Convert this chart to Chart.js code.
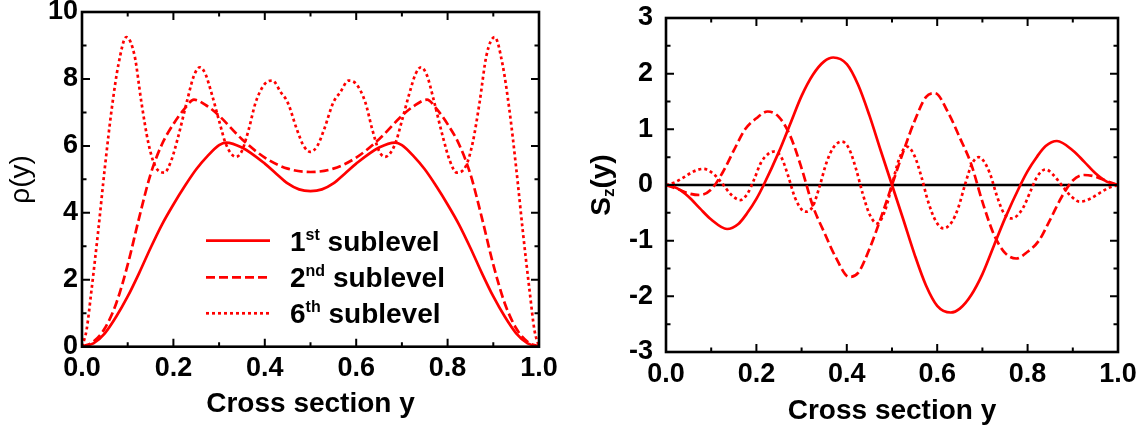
<!DOCTYPE html>
<html>
<head>
<meta charset="utf-8">
<script src="https://cdn.jsdelivr.net/npm/chart.js@4.4.1/dist/chart.umd.min.js"></script>
<style>
  html, body { margin: 0; padding: 0; background: #fff; }
  #wrap { position: relative; width: 1147px; height: 432px; }
  #rhoChart { position: absolute; left: 0; top: 0; }
  #szChart { position: absolute; left: 580px; top: 0; }
</style>
</head>
<body>
<div id="wrap">
  <canvas id="rhoChart" width="580" height="432"></canvas>
  <canvas id="szChart" width="567" height="432"></canvas>
</div>
<script>
// ---- data ----
const xMajorTicks = [0, 0.2, 0.4, 0.6, 0.8, 1.0];
const xTickLabels = ['0.0', '0.2', '0.4', '0.6', '0.8', '1.0'];
const xMinorTicks = [0.1, 0.3, 0.5, 0.7, 0.9];

const rhoMajorTicks = [0, 2, 4, 6, 8, 10];
const rhoTickLabels = ['0', '2', '4', '6', '8', '10'];
const rhoMinorTicks = [1, 3, 5, 7, 9];

const szMajorTicks = [-3, -2, -1, 0, 1, 2, 3];
const szTickLabels = ['-3', '-2', '-1', '0', '1', '2', '3'];
const szMinorTicks = [-2.5, -1.5, -0.5, 0.5, 1.5, 2.5];

// left panel: density rho(y)
const rho1X = [0, 0.025, 0.05, 0.075, 0.1, 0.125, 0.15, 0.175, 0.2, 0.225, 0.25, 0.275, 0.3, 0.315, 0.35, 0.4, 0.425, 0.45, 0.475, 0.5,
               0.525, 0.55, 0.575, 0.6, 0.65, 0.685, 0.7, 0.725, 0.75, 0.775, 0.8, 0.825, 0.85, 0.875, 0.9, 0.925, 0.95, 0.975, 1];
const rho1 = [0, 0.1, 0.4, 0.9, 1.5, 2.2, 2.95, 3.65, 4.25, 4.8, 5.3, 5.7, 6.02, 6.1, 5.95, 5.47, 5.17, 4.88, 4.7, 4.65,
              4.7, 4.88, 5.17, 5.47, 5.95, 6.1, 6.02, 5.7, 5.3, 4.8, 4.25, 3.65, 2.95, 2.2, 1.5, 0.9, 0.4, 0.1, 0];

const rho2X = [0, 0.025, 0.05, 0.075, 0.1, 0.125, 0.15, 0.175, 0.2, 0.225, 0.245, 0.275, 0.3, 0.35, 0.4, 0.45, 0.5,
               0.55, 0.6, 0.65, 0.7, 0.725, 0.755, 0.775, 0.8, 0.825, 0.85, 0.875, 0.9, 0.925, 0.95, 0.975, 1];
const rho2 = [0, 0.15, 0.55, 1.3, 2.45, 3.85, 5.15, 6.05, 6.65, 7.12, 7.38, 7.18, 6.9, 6.2, 5.65, 5.32, 5.22,
              5.32, 5.65, 6.2, 6.9, 7.18, 7.38, 7.12, 6.65, 6.05, 5.15, 3.85, 2.45, 1.3, 0.55, 0.15, 0];

const rho6X = [0, 0.01, 0.02, 0.035, 0.05, 0.065, 0.08, 0.097, 0.115, 0.13, 0.145, 0.16, 0.18, 0.195, 0.21, 0.23, 0.245, 0.258,
               0.27, 0.285, 0.3, 0.315, 0.337, 0.35, 0.365, 0.38, 0.4, 0.417, 0.435, 0.45, 0.47, 0.485, 0.5,
               0.515, 0.53, 0.55, 0.565, 0.583, 0.6, 0.62, 0.635, 0.65, 0.663, 0.685, 0.7, 0.715, 0.73, 0.742, 0.755,
               0.77, 0.79, 0.805, 0.82, 0.84, 0.855, 0.87, 0.885, 0.903, 0.92, 0.935, 0.95, 0.965, 0.98, 0.99, 1];
const rho6 = [0, 0.5, 1.6, 3.4, 5.35, 7.1, 8.45, 9.25, 8.7, 7.3, 6.1, 5.4, 5.2, 5.55, 6.25, 7.35, 8.1, 8.35,
              8.15, 7.5, 6.75, 6.05, 5.67, 5.85, 6.5, 7.3, 7.85, 7.95, 7.6, 7.3, 6.5, 6.0, 5.82,
              6.0, 6.5, 7.3, 7.6, 7.95, 7.85, 7.3, 6.5, 5.85, 5.67, 6.05, 6.75, 7.5, 8.15, 8.35, 8.1,
              7.35, 6.25, 5.55, 5.2, 5.4, 6.1, 7.3, 8.7, 9.25, 8.45, 7.1, 5.35, 3.4, 1.6, 0.5, 0];

// right panel: S_z(y)
const sz1X = [0, 0.025, 0.05, 0.075, 0.1, 0.135, 0.16, 0.18, 0.2, 0.216, 0.25, 0.275, 0.3, 0.325, 0.35, 0.37, 0.4, 0.425, 0.45, 0.475, 0.5,
              0.525, 0.55, 0.575, 0.6, 0.63, 0.65, 0.675, 0.7, 0.725, 0.75, 0.784, 0.8, 0.82, 0.84, 0.865, 0.9, 0.925, 0.95, 0.975, 1];
const sz1 = [0, -0.06, -0.21, -0.42, -0.62, -0.79, -0.7, -0.5, -0.25, 0, 0.6, 1.1, 1.6, 1.98, 2.22, 2.29, 2.17, 1.8, 1.25, 0.62, 0,
             -0.62, -1.25, -1.8, -2.17, -2.29, -2.22, -1.98, -1.6, -1.1, -0.6, 0, 0.25, 0.5, 0.7, 0.79, 0.62, 0.42, 0.21, 0.06, 0];

const sz2X = [0, 0.025, 0.05, 0.075, 0.1, 0.125, 0.15, 0.175, 0.2, 0.225, 0.25, 0.275, 0.3, 0.325, 0.35, 0.375, 0.405, 0.425, 0.45, 0.475, 0.5,
              0.525, 0.55, 0.575, 0.595, 0.625, 0.65, 0.675, 0.7, 0.725, 0.75, 0.775, 0.8, 0.825, 0.85, 0.875, 0.9, 0.925, 0.95, 0.975, 1];
const sz2 = [0, -0.07, -0.15, -0.18, -0.08, 0.22, 0.62, 1.0, 1.2, 1.32, 1.22, 0.88, 0.3, -0.38, -0.85, -1.29, -1.65, -1.58, -1.15, -0.6, 0,
             0.6, 1.15, 1.58, 1.65, 1.29, 0.85, 0.38, -0.3, -0.88, -1.22, -1.32, -1.2, -1.0, -0.62, -0.22, 0.08, 0.18, 0.15, 0.07, 0];

const sz6X = [0, 0.02, 0.04, 0.06, 0.083, 0.105, 0.125, 0.145, 0.164, 0.18, 0.195, 0.21, 0.225, 0.238, 0.255, 0.27, 0.285, 0.3, 0.31,
              0.325, 0.34, 0.355, 0.37, 0.389, 0.405, 0.42, 0.435, 0.45, 0.467, 0.485, 0.5,
              0.515, 0.533, 0.55, 0.565, 0.58, 0.597, 0.614, 0.632, 0.647, 0.662, 0.677, 0.692, 0.702, 0.717, 0.731, 0.747, 0.764,
              0.777, 0.792, 0.807, 0.822, 0.84, 0.857, 0.877, 0.896, 0.915, 0.94, 0.96, 0.98, 1];
const sz6 = [0, 0.05, 0.14, 0.24, 0.29, 0.2, 0.02, -0.18, -0.27, -0.16, 0.1, 0.4, 0.55, 0.6, 0.5, 0.17, -0.22, -0.44, -0.48,
             -0.38, -0.02, 0.4, 0.67, 0.78, 0.65, 0.3, -0.15, -0.52, -0.69, -0.45, 0,
             0.45, 0.69, 0.52, 0.15, -0.3, -0.65, -0.78, -0.67, -0.4, 0.02, 0.38, 0.5, 0.44, 0.2, -0.17, -0.5, -0.6,
             -0.55, -0.38, -0.1, 0.16, 0.28, 0.18, -0.02, -0.2, -0.3, -0.24, -0.14, -0.05, 0];

const zeroLineX = [0, 1];
const zeroLineY = [0, 0];

const legendNums = ['1', '2', '6'];
const legendSups = ['st', 'nd', 'th'];
const legendWord = 'sublevel';

// ---- helpers ----
const FONT = "'Liberation Sans', Arial, sans-serif";
const RED = '#ff0000';

function series(xs, ys) {
  return xs.map((x, i) => ({ x: x, y: ys[i] }));
}

function curve(label, xs, ys, dash) {
  return {
    label: label,
    data: series(xs, ys),
    borderColor: RED,
    borderWidth: 2.7,
    borderDash: dash,
    borderCapStyle: 'butt',
    pointRadius: 0,
    fill: false,
    cubicInterpolationMode: 'monotone'
  };
}

// box round the plot, ticks pointing inwards on all four sides
const frameTicks = {
  id: 'frameTicks',
  afterDatasetsDraw(chart, args, opts) {
    const { ctx, chartArea: a, scales: { x, y } } = chart;
    ctx.save();
    ctx.strokeStyle = '#000';
    ctx.lineWidth = 2;
    ctx.beginPath();
    const xt = (vals, len) => vals.forEach(v => {
      const px = x.getPixelForValue(v);
      ctx.moveTo(px, a.bottom); ctx.lineTo(px, a.bottom - len);
      ctx.moveTo(px, a.top); ctx.lineTo(px, a.top + len);
    });
    const yt = (vals, len) => vals.forEach(v => {
      const py = y.getPixelForValue(v);
      ctx.moveTo(a.left, py); ctx.lineTo(a.left + len, py);
      ctx.moveTo(a.right, py); ctx.lineTo(a.right - len, py);
    });
    xt(xMajorTicks, 8); xt(xMinorTicks, 4.5);
    yt(opts.major, 8); yt(opts.minor, 4.5);
    ctx.stroke();
    ctx.lineWidth = 2.6;
    ctx.strokeRect(a.left, a.top, a.right - a.left, a.bottom - a.top);
    ctx.restore();
  }
};

// legend with superscripts, inside the left plot
const sublevelLegend = {
  id: 'sublevelLegend',
  afterDatasetsDraw(chart) {
    const ctx = chart.ctx;
    const rows = [240.7, 277.3, 313.3];
    ctx.save();
    chart.data.datasets.forEach((ds, i) => {
      const yy = rows[i];
      ctx.strokeStyle = ds.borderColor;
      ctx.lineWidth = ds.borderWidth;
      ctx.lineCap = 'butt';
      ctx.setLineDash(ds.borderDash || []);
      ctx.beginPath();
      ctx.moveTo(206, yy); ctx.lineTo(270, yy);
      ctx.stroke();
      ctx.setLineDash([]);
      ctx.fillStyle = '#000';
      ctx.textBaseline = 'alphabetic';
      ctx.textAlign = 'left';
      let tx = 290;
      const base = yy + 10;
      ctx.font = 'bold 28px ' + FONT;
      ctx.fillText(legendNums[i], tx, base);
      tx += ctx.measureText(legendNums[i]).width;
      ctx.font = 'bold 16px ' + FONT;
      ctx.fillText(legendSups[i], tx, base - 11);
      tx += ctx.measureText(legendSups[i]).width;
      ctx.font = 'bold 28px ' + FONT;
      tx += ctx.measureText(' ').width;
      ctx.fillText(legendWord, tx, base);
    });
    ctx.restore();
  }
};

// S_z(y) axis title with a subscript
const szTitle = {
  id: 'szTitle',
  afterDraw(chart) {
    const ctx = chart.ctx;
    const cy = (chart.chartArea.top + chart.chartArea.bottom) / 2;
    ctx.save();
    ctx.translate(22, cy);
    ctx.rotate(-Math.PI / 2);
    ctx.fillStyle = '#000';
    ctx.textBaseline = 'middle';
    ctx.textAlign = 'left';
    const big = 'bold 28px ' + FONT, small = 'bold 17px ' + FONT;
    ctx.font = big;
    const wS = ctx.measureText('S').width, wP = ctx.measureText('(y)').width;
    ctx.font = small;
    const wz = ctx.measureText('z').width;
    let tx = -(wS + wz + wP) / 2;
    ctx.font = big; ctx.fillText('S', tx, 0); tx += wS;
    ctx.font = small; ctx.fillText('z', tx, 7); tx += wz;
    ctx.font = big; ctx.fillText('(y)', tx, 0);
    ctx.restore();
  }
};

function xAxis(height, titlePadBottom) {
  return {
    type: 'linear', min: 0, max: 1,
    grid: { display: false, drawTicks: false },
    border: { display: false },
    afterBuildTicks: s => { s.ticks = xMajorTicks.map(v => ({ value: v })); },
    afterFit: s => { s.height = height; s.paddingLeft = 0; s.paddingRight = 0; },
    ticks: {
      padding: 6, color: '#000', maxRotation: 0, autoSkip: false,
      font: { family: FONT, size: 27, weight: 'bold' },
      callback: (v, i) => xTickLabels[i]
    },
    title: {
      display: true, text: 'Cross section y', color: '#000',
      font: { family: FONT, size: 28, weight: 'bold' },
      padding: { top: 0, bottom: titlePadBottom }
    }
  };
}

function yAxis(min, max, major, labels, width, pad, title) {
  return {
    type: 'linear', min: min, max: max,
    grid: { display: false, drawTicks: false },
    border: { display: false },
    afterBuildTicks: s => { s.ticks = major.map(v => ({ value: v })); },
    afterFit: s => { s.width = width; s.paddingTop = 0; s.paddingBottom = 0; },
    ticks: {
      padding: pad, color: '#000', autoSkip: false,
      font: { family: FONT, size: 27, weight: 'bold' },
      callback: (v, i) => labels[i]
    },
    title: title
  };
}

new Chart(document.getElementById('rhoChart'), {
  type: 'line',
  data: {
    datasets: [
      curve('1st sublevel', rho1X, rho1, []),
      curve('2nd sublevel', rho2X, rho2, [9, 4]),
      curve('6th sublevel', rho6X, rho6, [3, 3])
    ]
  },
  options: {
    responsive: false,
    animation: false,
    layout: { padding: { top: 12, right: 41, left: 0, bottom: 0 } },
    plugins: {
      legend: { display: false },
      tooltip: { enabled: false },
      frameTicks: { major: rhoMajorTicks, minor: rhoMinorTicks }
    },
    scales: {
      x: xAxis(85.3, 11),
      y: yAxis(0, 10, rhoMajorTicks, rhoTickLabels, 82, 4, {
        display: true, text: 'ρ(y)', color: '#000',
        font: { family: FONT, size: 28, weight: 'normal' },
        padding: { top: 4, bottom: 0 }
      })
    }
  },
  plugins: [frameTicks, sublevelLegend]
});

new Chart(document.getElementById('szChart'), {
  type: 'line',
  data: {
    datasets: [
      curve('1st sublevel', sz1X, sz1, []),
      curve('2nd sublevel', sz2X, sz2, [9, 4]),
      curve('6th sublevel', sz6X, sz6, [3, 3]),
      {
        label: 'zero', data: series(zeroLineX, zeroLineY),
        borderColor: '#000', borderWidth: 2.5, pointRadius: 0, fill: false
      }
    ]
  },
  options: {
    responsive: false,
    animation: false,
    layout: { padding: { top: 18, right: 29, left: 0, bottom: 0 } },
    plugins: {
      legend: { display: false },
      tooltip: { enabled: false },
      frameTicks: { major: szMajorTicks, minor: szMinorTicks }
    },
    scales: {
      x: xAxis(80, 4),
      y: yAxis(-3, 3, szMajorTicks, szTickLabels, 86, 13, { display: false })
    }
  },
  plugins: [frameTicks, szTitle]
});
</script>
</body>
</html>
